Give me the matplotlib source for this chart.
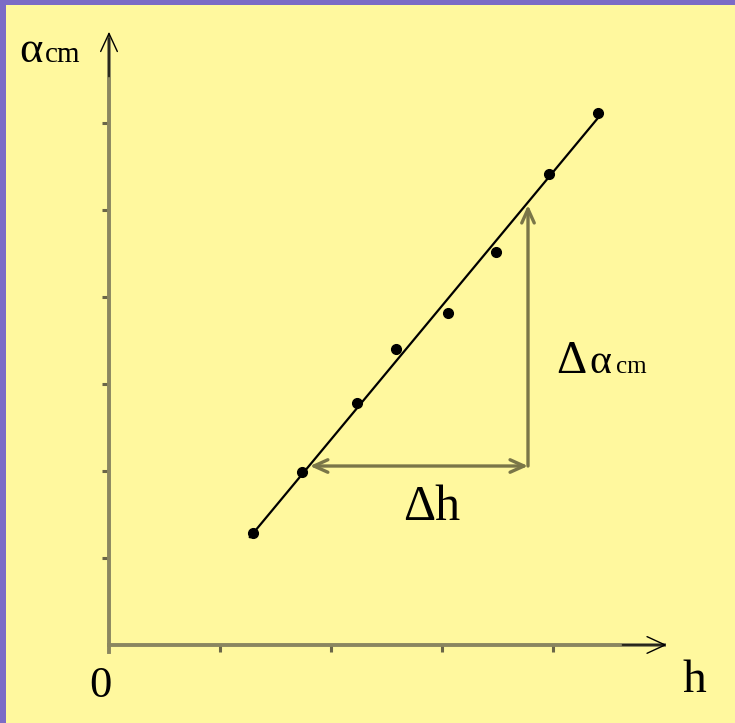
import matplotlib
matplotlib.use('Agg')
import matplotlib.pyplot as plt
import numpy as np

# measured points (h, alpha_cm)
h_pts = [1.30, 1.74, 2.23, 2.59, 3.05, 3.49, 3.96, 4.41]
a_pts = [1.29, 1.99, 2.78, 3.40, 3.81, 4.52, 5.41, 6.12]

# fitted straight line, drawn between these two ends
fit_h = [1.27, 4.42]
fit_a = [1.24, 6.08]

# slope triangle
tri_h = [1.81, 3.775]
tri_a = [2.057, 5.057]

xticks = [1, 2, 3, 4]
yticks = [1, 2, 3, 4, 5, 6]

yellow = '#fff89e'
purple = '#7b6bc6'
axcol = '#8a8660'
trcol = '#7a7648'

plt.rcParams['font.family'] = ['Liberation Serif', 'DejaVu Serif']

fig = plt.figure(figsize=(7.35, 7.23), dpi=100)
fig.patch.set_facecolor(purple)
ax = fig.add_axes([6 / 735, 0, 729 / 735, 718 / 723])
ax.set_facecolor(yellow)
ax.set_xlim(-0.928, 5.640)
ax.set_ylim(-0.897, 7.356)

# axes through the origin
for s in ['top', 'right']:
    ax.spines[s].set_visible(False)
ax.spines['left'].set_position(('data', 0))
ax.spines['bottom'].set_position(('data', 0))
ax.spines['left'].set_bounds(-0.08, 6.95)
ax.spines['bottom'].set_bounds(0, 5.0)
for s in ['left', 'bottom']:
    ax.spines[s].set_color(axcol)
    ax.spines[s].set_linewidth(2.8)
ax.set_xticks(xticks)
ax.set_yticks(yticks)
ax.tick_params(direction='out', length=5, width=2.2, color='#6a6648',
               labelleft=False, labelbottom=False)

# open arrow heads on the axes
ax.annotate('', xy=(0, 7.08), xytext=(0, 6.5),
            arrowprops=dict(arrowstyle='->,head_length=1.3,head_width=0.6',
                            color='black', lw=1.0))
ax.annotate('', xy=(5.05, 0), xytext=(4.6, 0),
            arrowprops=dict(arrowstyle='->,head_length=1.3,head_width=0.6',
                            color='black', lw=1.0))

# data and fit
ax.plot(fit_h, fit_a, color='black', lw=1.6, zorder=3)
ax.plot(h_pts, a_pts, 'o', color='black', ms=7, zorder=4)

# delta h and delta alpha arrows
ax.annotate('', xy=(tri_h[0], tri_a[0]), xytext=(tri_h[1], tri_a[0]),
            arrowprops=dict(arrowstyle='<->,head_length=1.0,head_width=0.45',
                            color=trcol, lw=2.4, shrinkA=0, shrinkB=0))
ax.annotate('', xy=(tri_h[1], tri_a[1]), xytext=(tri_h[1], tri_a[0]),
            arrowprops=dict(arrowstyle='->,head_length=1.0,head_width=0.45',
                            color=trcol, lw=2.4, shrinkA=0, shrinkB=0))

# labels
ax.text(-0.81, 6.70, 'α', fontsize=32, ha='left', va='baseline')
ax.text(-0.575, 6.70, 'cm', fontsize=21, ha='left', va='baseline')
ax.text(-0.08, -0.6, '0', fontsize=32, ha='center', va='baseline')
ax.text(5.27, -0.545, 'h', fontsize=34, ha='center', va='baseline')
ax.text(2.91, 1.44, 'Δh', fontsize=36, ha='center', va='baseline')
ax.text(4.03, 3.13, 'Δ', fontsize=34, ha='left', va='baseline')
ax.text(4.33, 3.13, 'α', fontsize=30, ha='left', va='baseline')
ax.text(4.57, 3.13, 'cm', fontsize=18, ha='left', va='baseline')

fig.savefig('out.png', dpi=100, facecolor=purple)
